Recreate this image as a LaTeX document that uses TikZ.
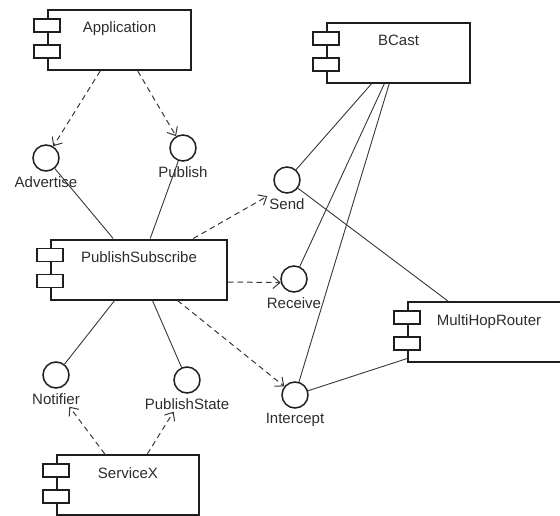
\documentclass[tikz,border=0pt]{standalone}
\usepackage{fontspec}
\setmainfont{Liberation Sans}
\usetikzlibrary{arrows.meta}
\definecolor{boxline}{RGB}{30,30,30}
\definecolor{linkgray}{RGB}{55,55,55}
\definecolor{textgray}{RGB}{45,45,45}
\tikzset{
  component/.style={draw=boxline, line width=2pt, fill=white, minimum height=60pt,
    inner xsep=4pt, inner ysep=0pt, text height=23pt, text depth=37pt,
    font=\fontsize{15}{18}\selectfont, text=textgray},
  tab-box/.style={draw=boxline, line width=1.7pt, fill=white},
  iface/.style={circle, draw=boxline, line width=1.5pt, fill=white,
    minimum size=26pt, inner sep=0pt},
  every label/.style={font=\fontsize{15}{18}\selectfont, text=textgray, inner sep=2pt},
  label distance=2.5pt,
  assoc-line/.style={draw=linkgray, line width=0.9pt},
  dep-arrow/.style={draw=linkgray, line width=1pt, dash pattern=on 5.5pt off 4pt,
    -{Straight Barb[length=7pt,width=12pt]}}
}

\begin{document}
\begin{tikzpicture}[x=1pt, y=-1pt]
\useasboundingbox (0,0) rectangle (560,516);

% Components
\node[component, minimum width=143pt] (app) at (119.5,40) {Application};
\node[component, minimum width=143pt] (bcast) at (398.5,53) {BCast};
\node[component, minimum width=176pt] (pubsub) at (139,269.5) {PublishSubscribe};
\node[component, minimum width=162pt] (router) at (489,332) {MultiHopRouter};
\node[component, minimum width=142pt] (svc) at (128,485) {ServiceX};

% Component tabs
\foreach \c in {app,bcast,pubsub,router,svc} {
  \draw[tab-box] ([xshift=-13pt,yshift=-10pt]\c.north west) rectangle ++(26,13);
  \draw[tab-box] ([xshift=-13pt,yshift=-36pt]\c.north west) rectangle ++(26,13);
}

% Interfaces
\node[iface, label={[name=adv-l]below:Advertise}] (adv) at (46,158) {};
\node[iface, label={[name=pub-l]below:Publish}] (pub) at (183,148) {};
\node[iface, label={[name=send-l]below:Send}] (send) at (287,180) {};
\node[iface, label={[name=recv-l]below:Receive}] (recv) at (294,279) {};
\node[iface, label={[name=intc-l]below:Intercept}] (intc) at (295,395) {};
\node[iface, label={[name=notif-l]below:Notifier}] (notif) at (56,375) {};
\node[iface, label={[name=pstate-l]below:PublishState}] (pstate) at (187,380) {};

% Provided interfaces
\draw[assoc-line] (adv) -- (pubsub);
\draw[assoc-line] (pub) -- (pubsub);
\draw[assoc-line] (notif) -- (pubsub);
\draw[assoc-line] (pstate) -- (pubsub);
\draw[assoc-line] (send) -- (bcast);
\draw[assoc-line] (recv) -- (bcast);
\draw[assoc-line] (intc) -- (bcast);
\draw[assoc-line] (send) -- (router);
\draw[assoc-line] (intc) -- (router);

% Dependencies
\draw[dep-arrow] (app) -- (adv);
\draw[dep-arrow] (app) -- (pub);
\draw[dep-arrow] (pubsub) -- (send-l.north west);
\draw[dep-arrow] (pubsub.352) -- (recv.195);
\draw[dep-arrow] (pubsub) -- (intc);
\draw[dep-arrow] (svc) -- (notif-l.-30);
\draw[dep-arrow] (svc) -- (pstate-l.210);
\end{tikzpicture}
\end{document}
